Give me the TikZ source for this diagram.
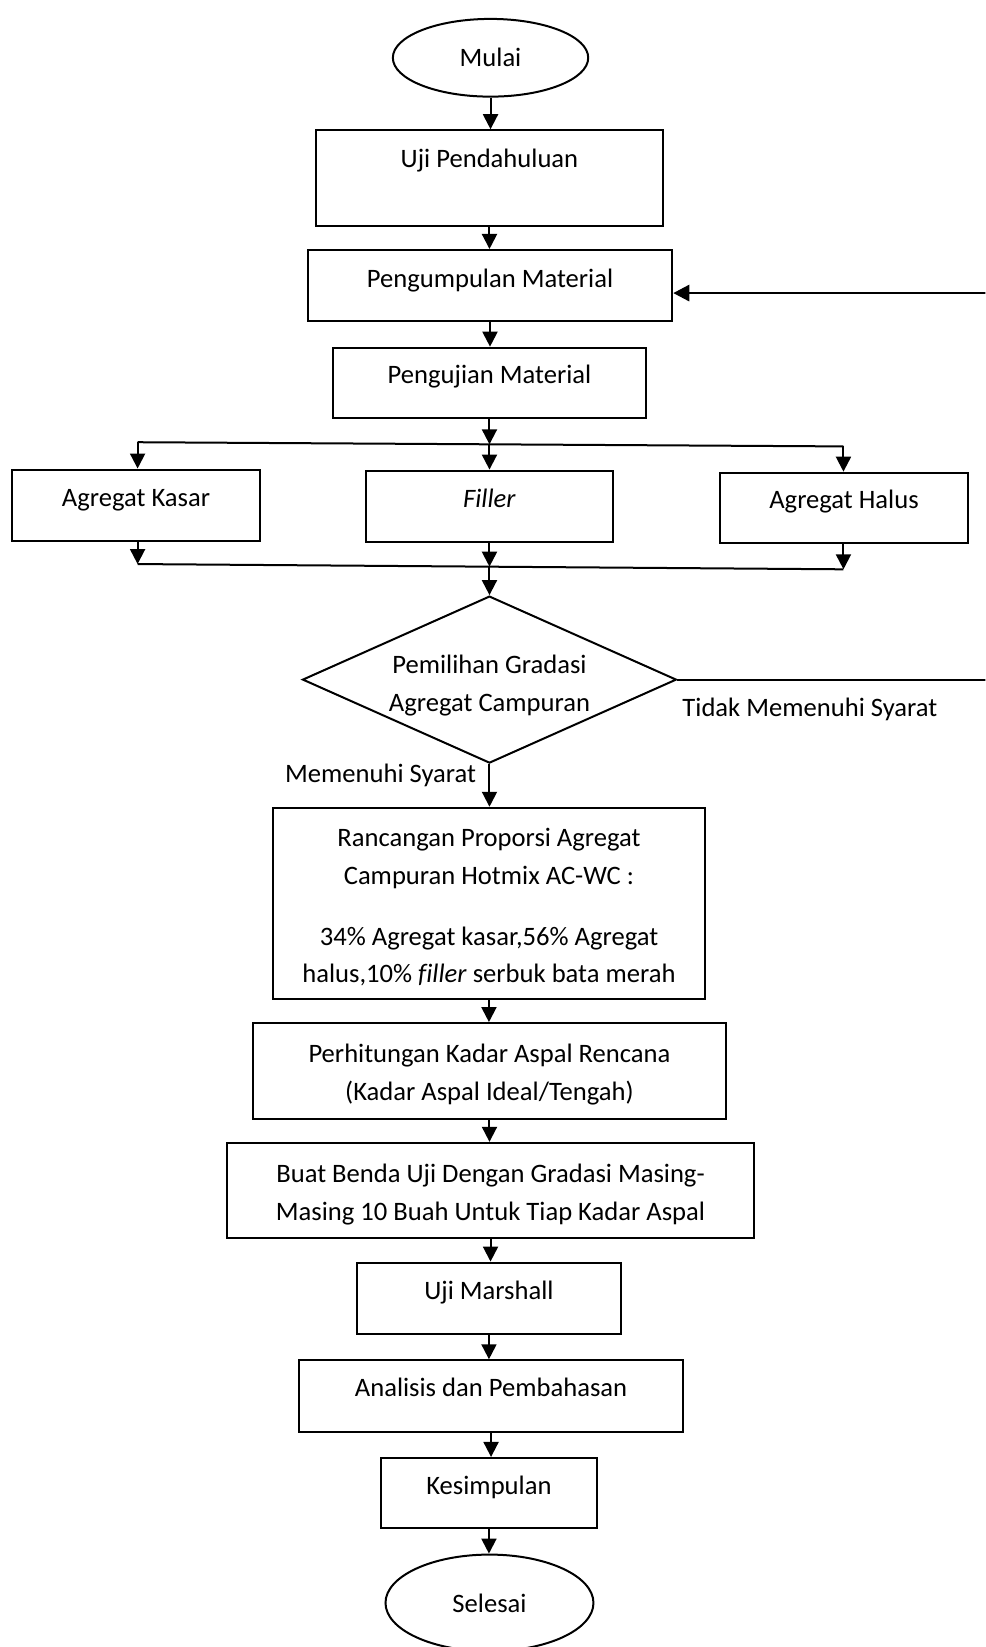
\documentclass[tikz,border=0pt]{standalone}
\usepackage{fontspec}
\setmainfont{Carlito}[Ligatures=CommonOff]
\usetikzlibrary{shapes.geometric,arrows.meta}
\newcommand{\satuan}{0.52505pt}

\begin{document}
\begin{tikzpicture}[x=\satuan, y=-\satuan, >={Triangle[width=7.5pt,length=7.5pt]},
  every node/.style={font=\fontsize{13.3}{18.9}\selectfont},
  kotak/.style 2 args={draw, line width=1pt, minimum width=#1*\satuan, minimum height=#2*\satuan, inner sep=2pt, align=center},
  oval/.style 2 args={draw, ellipse, line width=1pt, minimum width=#1*\satuan, minimum height=#2*\satuan, inner sep=0pt},
  naik/.style={text height=10pt, text depth=#1},
  garis/.style={line width=1pt},
  panah/.style={->, line width=1pt}]

\useasboundingbox (0,0) rectangle (938,1568);
\clip (0,0) rectangle (938,1568);

% Mulai
\node[oval={186}{74}] (mulai) at (467,55) {Mulai};

% Tahap awal
\node[kotak={330}{91}, naik=20.8pt] (uji) at (466,169.5) {Uji Pendahuluan};
\node[kotak={347}{68}, naik=8.4pt] (kumpul) at (466.5,272) {Pengumpulan Material};
\node[kotak={298}{67}, naik=9.4pt] (ujimat) at (466,364.5) {Pengujian Material};

% Tiga material
\node[kotak={237}{68}, naik=9pt] (kasar) at (129.5,481) {Agregat Kasar};
\node[kotak={236}{68}, naik=9pt] (filler) at (466,482) {\textit{Filler}};
\node[kotak={237}{67}, naik=9pt] (halus) at (803.5,483.5) {Agregat Halus};

% Percabangan ke material
\coordinate (kiriA) at (131,421);
\coordinate (tengahA) at (466,423);
\coordinate (kananA) at (803,425);
\draw[panah] (ujimat.south) -- (tengahA);
\draw[garis] (kiriA) -- (kananA);
\draw[panah] (kiriA) -- (kiriA |- kasar.north);
\draw[panah] (tengahA) -- (filler.north);
\draw[panah] (kananA) -- (kananA |- halus.north);

% Penggabungan
\coordinate (kiriB) at (131,537);
\coordinate (tengahB) at (466,539.5);
\coordinate (kananB) at (803,542);
\draw[panah] (kiriB |- kasar.south) -- (kiriB);
\draw[panah] (filler.south) -- (tengahB);
\draw[panah] (kananB |- halus.south) -- (kananB);
\draw[garis] (kiriB) -- (kananB);

% Keputusan gradasi
\node[draw, diamond, garis, aspect=2.24, minimum width=356*\satuan, minimum height=159*\satuan, inner sep=0pt, align=center] (pilih) at (466,647) {\rule{0pt}{15pt}Pemilihan Gradasi\\Agregat Campuran};
\draw[panah] (tengahB) -- (pilih.north);
\node[anchor=west] (tidak) at (643,675) {Tidak Memenuhi Syarat};
\node[anchor=east] (ya) at (460,738) {Memenuhi Syarat};

% Kembali ke pengumpulan material
\coordinate (luarB) at (950,647);
\coordinate (luarA) at (950,279);
\draw[garis] (pilih.east) -- (luarB) -- (luarA);
\draw[-{Triangle[width=8pt,length=8pt]}, line width=1.4pt] (luarA) -- (luarA -| kumpul.east);

% Tahap perancangan
\node[kotak={411}{182}] (rancang) at (465.5,860) {\rule{0pt}{13pt}Rancangan Proporsi Agregat\\Campuran Hotmix AC-WC :\\[11.6pt]34\% Agregat kasar,56\% Agregat\\halus,10\% \textit{filler} serbuk bata merah};
\node[kotak={450}{91}] (hitung) at (466,1019.5) {\rule{0pt}{13pt}Perhitungan Kadar Aspal Rencana\\(Kadar Aspal Ideal/Tengah)};
\node[kotak={502}{91}] (buat) at (467,1133.5) {\rule{0pt}{13pt}Buat Benda Uji Dengan Gradasi Masing-\\Masing 10 Buah Untuk Tiap Kadar Aspal};
\node[kotak={251}{68}, naik=8.4pt] (marshall) at (465.5,1236) {Uji Marshall};
\node[kotak={365}{68}, naik=9.4pt] (analisis) at (467.5,1329) {Analisis dan Pembahasan};
\node[kotak={205}{67}, naik=8.4pt] (simpul) at (465.5,1421.5) {Kesimpulan};

% Selesai
\node[oval={198}{92}] (selesai) at (466,1526) {Selesai};

% Panah utama
\draw[panah] (mulai.south) -- (mulai.south |- uji.north);
\draw[panah] (uji.south) -- (uji.south |- kumpul.north);
\draw[panah] (kumpul.south) -- (kumpul.south |- ujimat.north);
\draw[panah] (pilih.south) -- (pilih.south |- rancang.north);
\draw[panah] (rancang.south) -- (rancang.south |- hitung.north);
\draw[panah] (hitung.south) -- (hitung.south |- buat.north);
\draw[panah] (buat.south) -- (buat.south |- marshall.north);
\draw[panah] (marshall.south) -- (marshall.south |- analisis.north);
\draw[panah] (analisis.south) -- (analisis.south |- simpul.north);
\draw[panah] (simpul.south) -- (simpul.south |- selesai.north);

\end{tikzpicture}
\end{document}
